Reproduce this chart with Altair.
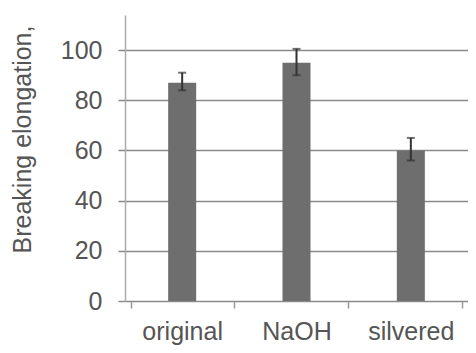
import altair as alt
import pandas as pd

categories = ["original", "NaOH", "silvered"]
values = [87, 95, 60]
err_low = [84, 90, 56]
err_high = [91, 100.5, 65]

df = pd.DataFrame({"cat": categories, "val": values, "lo": err_low, "hi": err_high})

FONT = "Liberation Sans"
x = alt.X("cat:N", sort=categories, title=None,
          scale=alt.Scale(paddingOuter=0.05),
          axis=alt.Axis(labelAngle=0, labelFontSize=25, labelColor="#555555",
                        labelFont=FONT, domain=False, tickBand="extent",
                        tickSize=7, tickColor="#9a9a9a", tickWidth=1.5, labelPadding=11))
y = alt.Y("val:Q", scale=alt.Scale(domain=[0, 114], nice=False),
          axis=alt.Axis(values=[0, 20, 40, 60, 80, 100], title="Breaking elongation,",
                        titleFontSize=25, titleFont=FONT, titleFontWeight="normal",
                        titleColor="#555555", titleAngle=270, titleX=-95, titleY=124,
                        titleBaseline="alphabetic", titleAlign="center",
                        labelFontSize=25, labelFont=FONT, labelColor="#555555",
                        tickSize=7, tickColor="#8a8a8a", tickWidth=1.5, labelPadding=16,
                        domainColor="#aaaaaa", domainWidth=1.5,
                        gridColor="#8a8a8a", gridWidth=1.5))

bars = alt.Chart(df).mark_bar(size=28, color="#6e6e6e").encode(x=x, y=y)
rule = alt.Chart(df).mark_rule(color="#333333", strokeWidth=2).encode(
    x=alt.X("cat:N", sort=categories), y="lo:Q", y2="hi:Q")
caps_hi = alt.Chart(df).mark_tick(color="#333333", size=8, thickness=2, orient="horizontal").encode(
    x=alt.X("cat:N", sort=categories), y="hi:Q")
caps_lo = alt.Chart(df).mark_tick(color="#333333", size=8, thickness=2, orient="horizontal").encode(
    x=alt.X("cat:N", sort=categories), y="lo:Q")

chart = alt.layer(bars, rule, caps_hi, caps_lo).properties(
    width=343, height=286,
    autosize=alt.AutoSizeParams(type="none"),
    padding={"left": 117, "top": 7, "right": 0, "bottom": 44},
    background="white",
).configure_view(stroke=None)

chart.save("out.html", embed_options={"renderer": "svg", "actions": False})
